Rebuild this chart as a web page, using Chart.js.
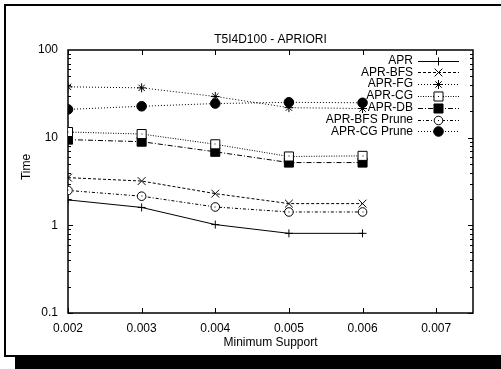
<!DOCTYPE html>
<html>
<head>
<meta charset="utf-8">
<script src="https://cdn.jsdelivr.net/npm/chart.js@4.4.0/dist/chart.umd.min.js"></script>
<style>
  html, body { margin: 0; padding: 0; background: #fff; }
  #wrap { width: 501px; height: 369px; }
</style>
</head>
<body>
<div id="wrap"><canvas id="chart" width="501" height="369"></canvas></div>
<script>
// Run times (seconds) per minimum support threshold
const support = [0.002, 0.003, 0.004, 0.005, 0.006];
const apr = [1.95, 1.6, 1.02, 0.81, 0.81];
const aprBfs = [3.5, 3.2, 2.3, 1.77, 1.77];
const aprFg = [38, 37, 29.5, 22, 21.5];
const aprCg = [11.6, 11.0, 8.4, 6.1, 6.2];
const aprDb = [9.5, 9.0, 6.9, 5.2, 5.2];
const aprBfsPrune = [2.5, 2.15, 1.62, 1.42, 1.42];
const aprCgPrune = [21, 22.8, 24.5, 25.3, 25];

const xTicks = [0.002, 0.003, 0.004, 0.005, 0.006, 0.007];
const yTicks = [0.1, 1, 10, 100];

const FONT = '"Liberation Sans", Arial, Helvetica, sans-serif';

const series = [
  { label: 'APR', values: apr, dash: [], point: 'cross', radius: 4, fill: '#000', dot: false },
  { label: 'APR-BFS', values: aprBfs, dash: [3, 2], point: 'crossRot', radius: 5.5, fill: '#000', dot: false },
  { label: 'APR-FG', values: aprFg, dash: [1, 2], point: 'star', radius: 4.5, fill: '#000', dot: false },
  { label: 'APR-CG', values: aprCg, dash: [1, 1.5], point: 'rect', radius: 6.4, fill: '#fff', dot: true },
  { label: 'APR-DB', values: aprDb, dash: [5, 2, 1, 2], point: 'rect', radius: 6.4, fill: '#000', dot: false },
  { label: 'APR-BFS Prune', values: aprBfsPrune, dash: [3, 2, 1, 2], point: 'circle', radius: 4.3, fill: '#fff', dot: true },
  { label: 'APR-CG Prune', values: aprCgPrune, dash: [1, 2], point: 'circle', radius: 4.8, fill: '#000', dot: false }
];

const datasets = series.map(s => ({
  label: s.label,
  data: support.map((x, i) => ({ x: x, y: s.values[i] })),
  borderColor: '#000',
  borderWidth: 1,
  borderDash: s.dash,
  pointStyle: s.point,
  pointRadius: s.radius,
  pointBorderWidth: 1,
  pointBorderColor: '#000',
  pointBackgroundColor: s.fill,
  fill: false,
  tension: 0
}));

// Frame, plot box, inward ticks, titles and the key, gnuplot style
const gnuplotLook = {
  id: 'gnuplotLook',
  beforeDraw(chart) {
    const ctx = chart.ctx;
    ctx.save();
    ctx.fillStyle = '#fff';
    ctx.fillRect(0, 0, chart.width, chart.height);
    ctx.strokeStyle = '#000';
    ctx.lineWidth = 2;
    ctx.strokeRect(5, 5, 510, 351);
    ctx.fillStyle = '#000';
    ctx.fillRect(15, 356, 490, 13);
    ctx.restore();
  },
  beforeDatasetsDraw(chart) {
    const ctx = chart.ctx;
    const a = chart.chartArea;
    const xs = chart.scales.x;
    const ys = chart.scales.y;
    ctx.save();
    ctx.strokeStyle = '#000';
    ctx.lineWidth = 1;
    ctx.beginPath();
    // y ticks, major and minor, on both sides
    for (let d = -1; d < 2; d++) {
      for (let k = 1; k < 10; k++) {
        const v = k * Math.pow(10, d);
        const y = Math.round(ys.getPixelForValue(v)) + 0.5;
        const len = k === 1 ? 5 : 3;
        ctx.moveTo(a.left, y); ctx.lineTo(a.left + len, y);
        ctx.moveTo(a.right, y); ctx.lineTo(a.right - len, y);
      }
    }
    xTicks.forEach(v => {
      const x = Math.round(xs.getPixelForValue(v)) + 0.5;
      ctx.moveTo(x, a.bottom); ctx.lineTo(x, a.bottom - 5);
      ctx.moveTo(x, a.top); ctx.lineTo(x, a.top + 5);
    });
    ctx.stroke();
    ctx.lineWidth = 1.5;
    ctx.strokeRect(a.left, a.top, a.right - a.left, a.bottom - a.top);
    ctx.restore();
  },
  afterDatasetsDraw(chart) {
    const ctx = chart.ctx;
    ctx.save();
    ctx.fillStyle = '#000';
    series.forEach((s, i) => {
      if (!s.dot) return;
      chart.getDatasetMeta(i).data.forEach(p => {
        ctx.fillRect(Math.round(p.x) - 0.5, Math.round(p.y) - 0.5, 1, 1);
      });
    });
    ctx.restore();
  },
  afterDraw(chart) {
    const ctx = chart.ctx;
    const a = chart.chartArea;
    ctx.save();
    ctx.fillStyle = '#000';
    ctx.font = '12px ' + FONT;
    ctx.textBaseline = 'middle';
    ctx.textAlign = 'center';
    ctx.fillText('T5I4D100 - APRIORI', (a.left + a.right) / 2, 40);
    ctx.fillText('Minimum Support', (a.left + a.right) / 2, 343);
    ctx.save();
    ctx.translate(27, 167);
    ctx.rotate(-Math.PI / 2);
    ctx.fillText('Time', 0, 0);
    ctx.restore();

    // key in the upper right corner
    series.forEach((s, i) => {
      const y = 60.5 + i * 11.8;
      ctx.fillStyle = '#000';
      ctx.textAlign = 'right';
      ctx.fillText(s.label, 413, y);
      ctx.strokeStyle = '#000';
      ctx.lineWidth = 1;
      ctx.setLineDash(s.dash);
      ctx.beginPath();
      ctx.moveTo(418, Math.round(y) + 0.5);
      ctx.lineTo(459, Math.round(y) + 0.5);
      ctx.stroke();
      ctx.setLineDash([]);
      ctx.fillStyle = s.fill;
      Chart.helpers.drawPoint(ctx, { pointStyle: s.point, radius: s.radius, rotation: 0, borderWidth: 1 }, 438.5, Math.round(y) + 0.5);
      if (s.dot) {
        ctx.fillStyle = '#000';
        ctx.fillRect(438, Math.round(y), 1, 1);
      }
    });
    ctx.restore();
  }
};

new Chart(document.getElementById('chart'), {
  type: 'line',
  data: { datasets: datasets },
  plugins: [gnuplotLook],
  options: {
    responsive: false,
    animation: false,
    devicePixelRatio: 1,
    layout: { padding: { left: 10, right: 28, top: 50, bottom: 0 } },
    plugins: {
      legend: { display: false },
      title: { display: false },
      tooltip: { enabled: false }
    },
    scales: {
      x: {
        type: 'linear',
        min: 0.002,
        max: 0.0075,
        grid: { display: false, drawTicks: false, tickLength: 0 },
        border: { display: false },
        afterBuildTicks: scale => { scale.ticks = xTicks.map(v => ({ value: v })); },
        afterFit: scale => { scale.height = 56; },
        ticks: {
          autoSkip: false,
          maxRotation: 0,
          padding: 8,
          color: '#000',
          font: { family: FONT, size: 12 },
          callback: v => v.toFixed(3)
        }
      },
      y: {
        type: 'logarithmic',
        min: 0.1,
        max: 100,
        grid: { display: false, drawTicks: false, tickLength: 0 },
        border: { display: false },
        afterBuildTicks: scale => { scale.ticks = yTicks.map(v => ({ value: v })); },
        afterFit: scale => { scale.width = 58; },
        ticks: {
          autoSkip: false,
          padding: 10,
          color: '#000',
          font: { family: FONT, size: 12 },
          callback: v => String(v)
        }
      }
    }
  }
});
</script>
</body>
</html>
